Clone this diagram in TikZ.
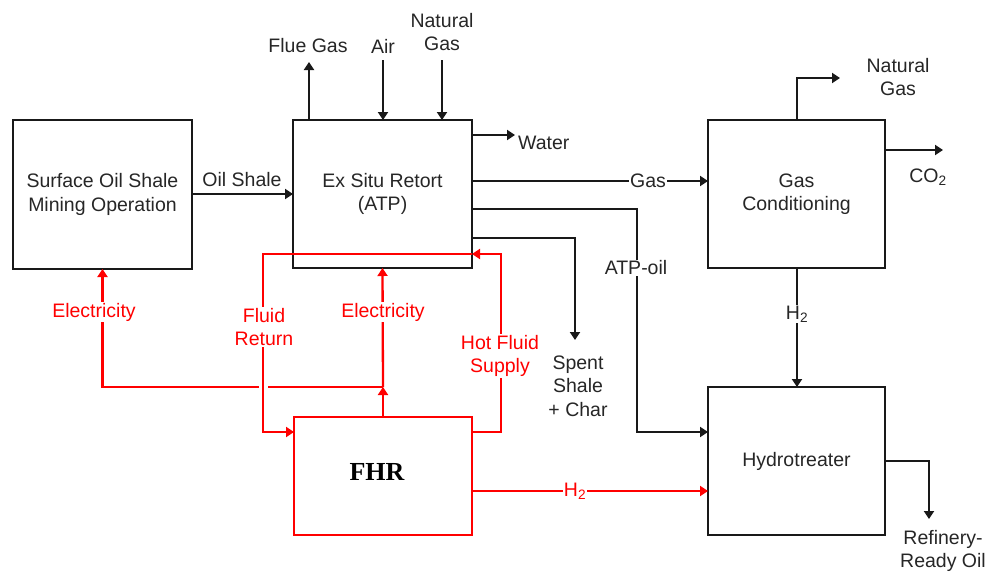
\documentclass[tikz,border=0pt]{standalone}
\usepackage{fontspec}
\setmainfont{Liberation Sans}
\newfontfamily\fhrfont{Liberation Serif}
\usetikzlibrary{arrows.meta}
\begin{document}
\begin{tikzpicture}[x=1pt,y=-1pt,
  every node/.style={font=\fontsize{19.5}{23.5}\selectfont, text=black!85, align=center},
  box/.style={draw=black!90, line width=2.3pt, inner sep=0pt, outer sep=0pt},
  rbox/.style={draw=red, line width=2.3pt, inner sep=0pt, outer sep=0pt},
  flow/.style={draw=black!90, line width=2.3pt, -{Triangle[length=8pt,width=10pt]}},
  plain/.style={draw=black!90, line width=2.3pt},
  rflow/.style={draw=red, line width=2.3pt, -{Triangle[length=8pt,width=10pt]}},
  rline/.style={draw=red, line width=2.3pt},
  tag/.style={fill=white, inner sep=1pt},
  rtag/.style={fill=white, inner sep=1pt, text=red},
  lbl/.style={inner sep=0pt},
]
\useasboundingbox (0,0) rectangle (987,574);

% boxes
\node[box, minimum width=179pt, minimum height=149pt] (surf) at (102.5,194.5) {Surface Oil Shale\\Mining Operation};
\node[box, minimum width=179pt, minimum height=148pt] (retort) at (382.5,194) {Ex Situ Retort\\(ATP)};
\node[box, minimum width=177pt, minimum height=148pt] (gascond) at (796.5,194) {Gas\\Conditioning};
\node[box, minimum width=177pt, minimum height=148pt] (hydro) at (796.5,461) {Hydrotreater};
\node[rbox, minimum width=178pt, minimum height=118pt] (fhr) at (383,476) {};
\node[lbl, font=\fhrfont\bfseries\fontsize{26}{30}\selectfont, text=black] (fhrtext) at (377,472) {FHR};

% coordinates
\coordinate (flueA) at (309,120);  \coordinate (flueB) at (309,62);
\coordinate (airA) at (383,60);    \coordinate (airB) at (383,120);
\coordinate (ngA) at (442,60);     \coordinate (ngB) at (442,120);
\coordinate (watA) at (472,135);   \coordinate (watB) at (515,135);
\coordinate (gasA) at (472,181);
\coordinate (atpA) at (472,209);   \coordinate (atpB) at (637,209); \coordinate (atpC) at (637,432);
\coordinate (spA) at (472,238);    \coordinate (spB) at (575,238);  \coordinate (spC) at (575,340);
\coordinate (ng2A) at (797,120);   \coordinate (ng2B) at (797,78);  \coordinate (ng2C) at (840,78);
\coordinate (co2A) at (885,150);   \coordinate (co2B) at (943,150);
\coordinate (h2A) at (797,268);    \coordinate (h2B) at (797,387);
\coordinate (outA) at (885,461);   \coordinate (outB) at (929,461); \coordinate (outC) at (929,519);
\coordinate (rh2A) at (472,491);
\coordinate (junc) at (383,387);
\coordinate (gapR) at (268,387);   \coordinate (gapL) at (259,387);
\coordinate (hs1) at (501,432);    \coordinate (hs2) at (501,254);
\coordinate (fr1) at (263,254);    \coordinate (fr2) at (263,432);

% black flows
\draw[flow] (surf.east |- 0,194) -- (retort.west |- 0,194);
\node[lbl] (oilshale) at (242,180) {Oil Shale};
\draw[flow] (flueA) -- (flueB);
\node[lbl] (flue) at (308,46) {Flue Gas};
\draw[flow] (airA) -- (airB);
\node[lbl] (air) at (383,46) {Air};
\draw[flow] (ngA) -- (ngB);
\node[lbl] (ng) at (442,32) {Natural\\Gas};
\draw[flow] (watA) -- (watB);
\node[lbl, anchor=west] (water) at (518,143) {Water};
\draw[flow] (gasA) -- (gascond.west |- gasA);
\node[tag] (gas) at (648,181) {Gas};
\draw[flow] (atpA) -- (atpB) -- (atpC) -- (hydro.west |- atpC);
\node[tag] (atpoil) at (636,268) {ATP-oil};
\draw[flow] (spA) -- (spB) -- (spC);
\node[lbl] (spent) at (578,386) {Spent\\Shale\\+ Char};
\draw[flow] (ng2A) -- (ng2B) -- (ng2C);
\node[lbl] (ng2) at (898,77) {Natural\\Gas};
\draw[flow] (co2A) -- (co2B);
\node[lbl] (co2) at (928,177) {CO\textsubscript{2}};
\draw[flow] (h2A) -- (h2B);
\node[tag] (h2) at (797,314) {H\textsubscript{2}};
\draw[flow] (outA) -- (outB) -- (outC);
\node[lbl] (refinery) at (943,551) {Refinery-\\Ready Oil};

% red flows
\draw[rflow] (rh2A) -- (hydro.west |- rh2A);
\node[rtag] (rh2) at (575,491) {H\textsubscript{2}};
\draw[rflow] (fhr.north) -- (junc);
\draw[rflow] (junc) -- (retort.south);
\node[rtag] (elec2) at (383,312) {Electricity};
\draw[rline] (junc) -- (gapR);
\draw[rflow] (gapL) -| (surf.south);
\node[rtag] (elec1) at (94,312) {Electricity};
\draw[rflow] (fhr.east |- hs1) -- (hs1) -- (hs2) -- (retort.east |- hs2);
\node[rtag] (hot) at (500,356) {Hot Fluid\\Supply};
\draw[rflow] (retort.east |- hs2) -- (fr1) -- (fr2) -- (fhr.west |- fr2);
\node[rtag] (ret) at (264,327) {Fluid\\Return};
\end{tikzpicture}
\end{document}
